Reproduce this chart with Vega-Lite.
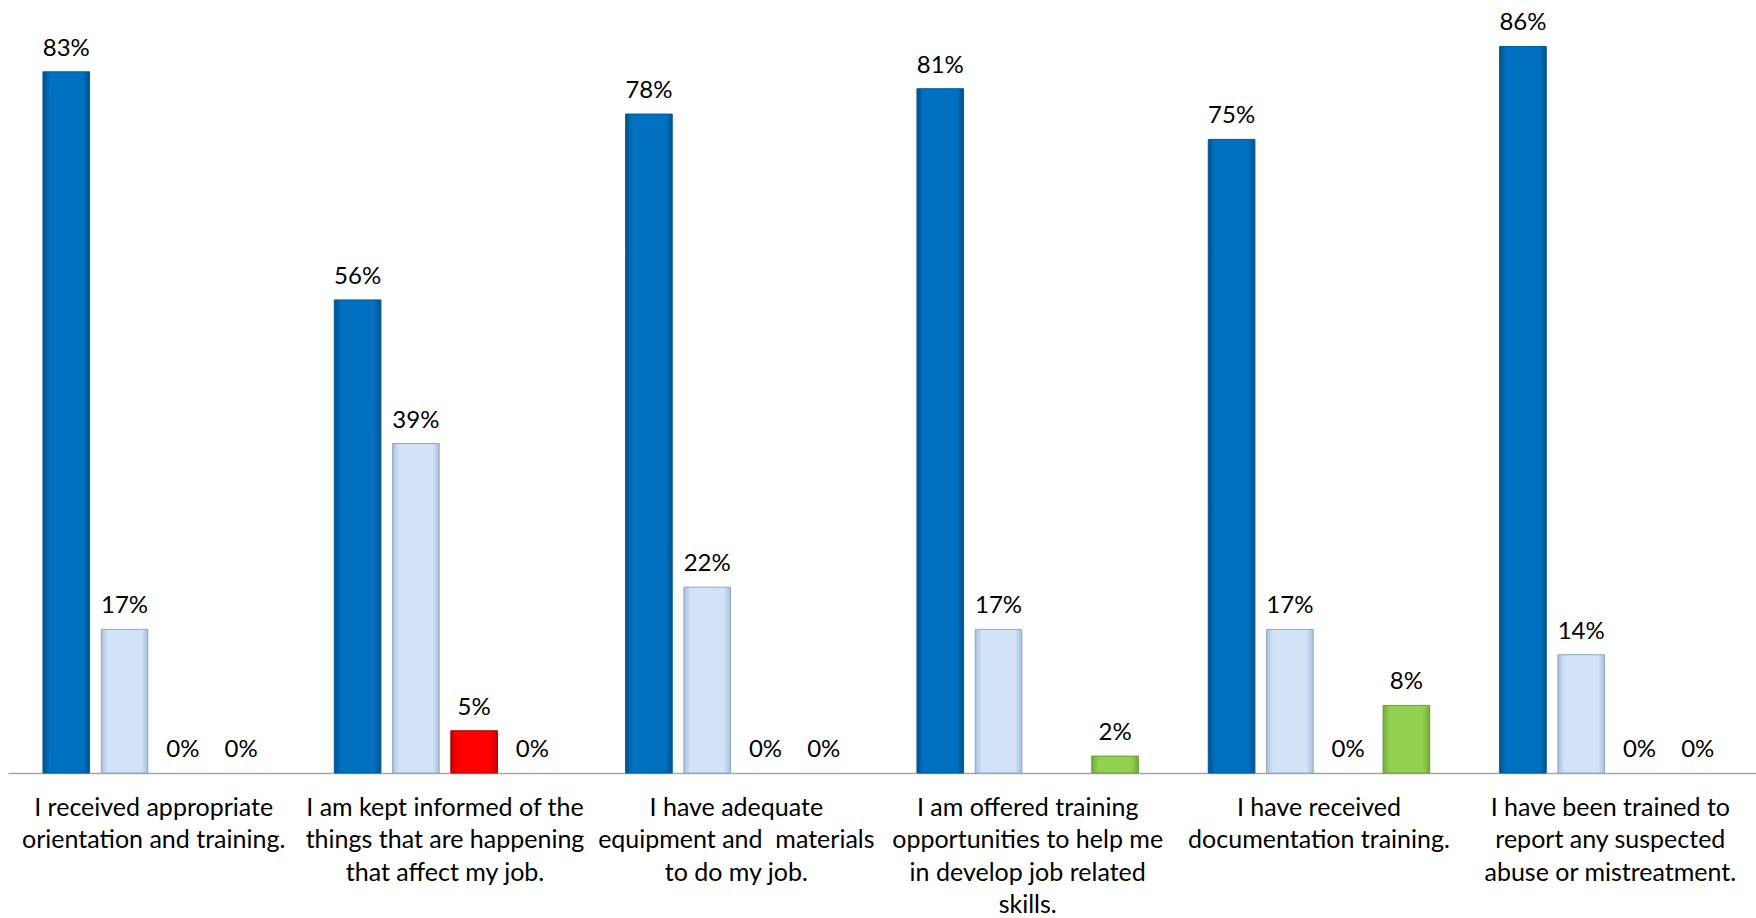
{
  "$schema": "https://vega.github.io/schema/vega-lite/v6.json",
  "autosize": "none",
  "width": 1748,
  "height": 773,
  "padding": {"left": 8, "top": 0, "right": 0, "bottom": 145},
  "background": "white",
  "config": {"view": {"stroke": null}, "font": "Lato"},
  "data": {
    "values": [
      {"q": "I received appropriate|orientation and training.", "s": "Series 1", "v": 0.83},
      {"q": "I received appropriate|orientation and training.", "s": "Series 2", "v": 0.17},
      {"q": "I received appropriate|orientation and training.", "s": "Series 3", "v": 0},
      {"q": "I received appropriate|orientation and training.", "s": "Series 4", "v": 0},
      {"q": "I am kept informed of the|things that are happening|that affect my job.", "s": "Series 1", "v": 0.56},
      {"q": "I am kept informed of the|things that are happening|that affect my job.", "s": "Series 2", "v": 0.39},
      {"q": "I am kept informed of the|things that are happening|that affect my job.", "s": "Series 3", "v": 0.05},
      {"q": "I am kept informed of the|things that are happening|that affect my job.", "s": "Series 4", "v": 0},
      {"q": "I have adequate|equipment and\u00a0 materials|to do my job.", "s": "Series 1", "v": 0.78},
      {"q": "I have adequate|equipment and\u00a0 materials|to do my job.", "s": "Series 2", "v": 0.22},
      {"q": "I have adequate|equipment and\u00a0 materials|to do my job.", "s": "Series 3", "v": 0},
      {"q": "I have adequate|equipment and\u00a0 materials|to do my job.", "s": "Series 4", "v": 0},
      {"q": "I am offered training|opportunities to help me|in develop job related|skills.", "s": "Series 1", "v": 0.81},
      {"q": "I am offered training|opportunities to help me|in develop job related|skills.", "s": "Series 2", "v": 0.17},
      {"q": "I am offered training|opportunities to help me|in develop job related|skills.", "s": "Series 4", "v": 0.02},
      {"q": "I have received|documentation training.", "s": "Series 1", "v": 0.75},
      {"q": "I have received|documentation training.", "s": "Series 2", "v": 0.17},
      {"q": "I have received|documentation training.", "s": "Series 3", "v": 0},
      {"q": "I have received|documentation training.", "s": "Series 4", "v": 0.08},
      {"q": "I have been trained to|report any suspected|abuse or mistreatment.", "s": "Series 1", "v": 0.86},
      {"q": "I have been trained to|report any suspected|abuse or mistreatment.", "s": "Series 2", "v": 0.14},
      {"q": "I have been trained to|report any suspected|abuse or mistreatment.", "s": "Series 3", "v": 0},
      {"q": "I have been trained to|report any suspected|abuse or mistreatment.", "s": "Series 4", "v": 0}
    ]
  },
  "encoding": {
    "x": {
      "field": "q", "type": "nominal", "sort": null,
      "scale": {"paddingInner": 0.2, "paddingOuter": 0.1},
      "axis": {
        "title": null, "labelAngle": 0, "ticks": false,
        "domainColor": "#A6A6A6", "domainWidth": 1.5,
        "labelExpr": "split(datum.label, '|')",
        "labelFontSize": 25, "labelColor": "#000000", "labelFont": "Lato",
        "labelLineHeight": 32.5, "labelPadding": 22, "labelBaseline": "top",
        "labelLimit": 0, "labelOverlap": false
      }
    },
    "xOffset": {"field": "s", "type": "nominal", "scale": {"domain": ["Series 1", "Series 2", "Series 3", "Series 4"], "paddingInner": 0.2, "paddingOuter": 0.1}},
    "y": {"field": "v", "type": "quantitative", "scale": {"domain": [0, 0.915], "nice": false}, "axis": null}
  },
  "layer": [
    {
      "transform": [{"filter": "datum.s == 'Series 1' && datum.v > 0"}],
      "mark": {"type": "bar", "strokeWidth": 1, "stroke": "#005A9E",
        "color": {"gradient": "linear", "x1": 0, "x2": 1, "y1": 0, "y2": 0,
          "stops": [{"offset": 0, "color": "#00508C"}, {"offset": 0.14, "color": "#0070C0"}, {"offset": 0.86, "color": "#0070C0"}, {"offset": 1, "color": "#00508C"}]}},
      "encoding": {}
    },
    {
      "transform": [{"filter": "datum.s == 'Series 2' && datum.v > 0"}],
      "mark": {"type": "bar", "strokeWidth": 1, "stroke": "#8FA8C4",
        "color": {"gradient": "linear", "x1": 0, "x2": 1, "y1": 0, "y2": 0,
          "stops": [{"offset": 0, "color": "#A8BFD9"}, {"offset": 0.14, "color": "#D2E3F8"}, {"offset": 0.86, "color": "#D2E3F8"}, {"offset": 1, "color": "#A8BFD9"}]}},
      "encoding": {}
    },
    {
      "transform": [{"filter": "datum.s == 'Series 3' && datum.v > 0"}],
      "mark": {"type": "bar", "strokeWidth": 1, "stroke": "#B00000",
        "color": {"gradient": "linear", "x1": 0, "x2": 1, "y1": 0, "y2": 0,
          "stops": [{"offset": 0, "color": "#C80000"}, {"offset": 0.14, "color": "#FF0000"}, {"offset": 0.86, "color": "#FF0000"}, {"offset": 1, "color": "#C80000"}]}},
      "encoding": {}
    },
    {
      "transform": [{"filter": "datum.s == 'Series 4' && datum.v > 0"}],
      "mark": {"type": "bar", "strokeWidth": 1, "stroke": "#6A9A3A",
        "color": {"gradient": "linear", "x1": 0, "x2": 1, "y1": 0, "y2": 0,
          "stops": [{"offset": 0, "color": "#74AA38"}, {"offset": 0.14, "color": "#92D050"}, {"offset": 0.86, "color": "#92D050"}, {"offset": 1, "color": "#74AA38"}]}},
      "encoding": {}
    },
    {
      "mark": {"type": "text", "baseline": "alphabetic", "dy": -16, "fontSize": 24, "font": "Lato", "color": "#000000"},
      "encoding": {"text": {"field": "v", "type": "quantitative", "format": ".0%"}}
    }
  ]
}
